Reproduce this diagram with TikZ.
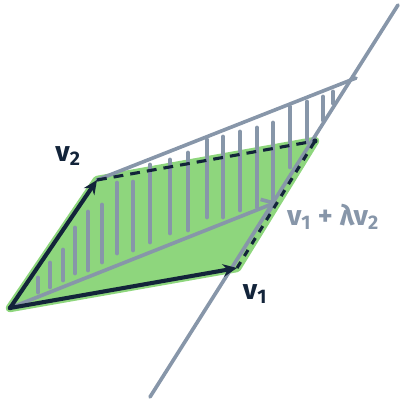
\documentclass[tikz,border=0pt]{standalone}
\usepackage{fontspec}
\setmainfont{Fira Sans}
\usetikzlibrary{arrows.meta}
\definecolor{ink}{HTML}{13243A}
\definecolor{slate}{HTML}{8796A9}
\definecolor{leaf}{HTML}{8ED67D}
\tikzset{
  vec/.style={ink, line width=2.9pt, line cap=round, -{Stealth[length=10pt,width=9pt]}},
  guide/.style={slate, line width=2.6pt, line cap=round},
  hatch/.style={slate, line width=3.4pt, line cap=round},
  side/.style={ink, line width=2.2pt, dash pattern=on 7pt off 5pt},
  lbl/.style={font=\fontsize{20}{24}\selectfont\bfseries, text=ink}
}
\begin{document}
\begin{tikzpicture}[x=0.025cm, y=-0.025cm]
\useasboundingbox (0,0) rectangle (407,405);
% corners of the parallelogram
\coordinate (o) at (10,308);
\coordinate (v1) at (237,268);
\coordinate (v2) at (97,180);
\coordinate (v12) at (315,141);
% the line v1 + lambda v2
\coordinate (lo) at (150,397);
\coordinate (hi) at (398,5);
\coordinate (p) at (356,78);
\coordinate (q) at (277,202);
% green area
\fill[leaf, draw=leaf, line width=6pt, line join=round] (o) -- (v1) -- (v12) -- (v2) -- cycle;
% hatching
\foreach \x/\ya/\yb in {38/278/292, 50/263/287, 63/250/280, 75/228/273, 88/212/270,
  102/205/262, 117/183/253, 133/182/250, 150/165/242, 170/160/233, 188/153/230,
  207/140/217, 223/137/217, 240/132/210, 257/128/207, 273/123/200, 290/107/167,
  307/102/142, 323/97/120, 333/92/103}
  \draw[hatch] (\x,\ya) -- (\x,\yb);
% gray lines
\draw[guide] (lo) -- (hi);
\draw[guide] (v2) -- (p);
\draw[guide, -{Straight Barb[length=8pt,width=12pt]}] (o) -- (q);
% dashed sides
\draw[side] (v2) -- (v12);
\draw[side, dash pattern=on 5pt off 5pt] (v1) -- (v12);
\fill[ink] (v12) circle (1.8pt);
% vectors
\draw[vec] (o) -- (v1);
\draw[vec] (o) -- (v2);
\fill[ink] (o) circle (1.6pt);
% labels
\node[lbl] (l2) at (68,156) {v\textsubscript{2}};
\node[lbl] (l1) at (255,294) {v\textsubscript{1}};
\node[lbl, text=slate] (lsum) at (333,217) {v\textsubscript{1} + λv\textsubscript{2}};
\end{tikzpicture}
\end{document}
